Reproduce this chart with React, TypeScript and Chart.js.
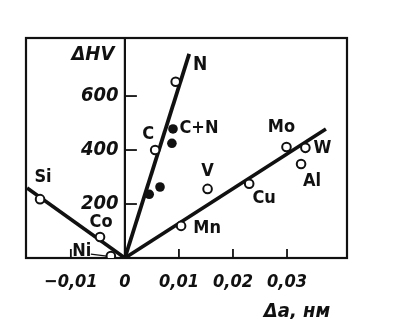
import React, { useEffect, useRef } from 'react';
import { Chart, registerables } from 'chart.js';

Chart.register(...registerables);

// ---- data ----
const openLabels = ['Si', 'Co', 'Ni', 'N', 'C', 'Mn', 'V', 'Cu', 'Mo', 'W', 'Al'];
const openX = [-0.0157, -0.0046, -0.0026, 0.0094, 0.0056, 0.0104, 0.0153, 0.0230, 0.0299, 0.0334, 0.0326];
const openY = [218, 78, 7, 653, 400, 119, 256, 275, 411, 408, 348];

const filledLabel = 'C+N';
const filledX = [0.0045, 0.0065, 0.0087, 0.0089];
const filledY = [236, 263, 425, 478];

const siLineX = [-0.0181, 0];
const siLineY = [259, 0];
const nLineX = [0, 0.0119];
const nLineY = [0, 756];
const subLineX = [0, 0.0372];
const subLineY = [0, 478];

const xTicks = [-0.01, 0, 0.01, 0.02, 0.03];
const yTicks = [200, 400, 600];

const xMin = -0.0183;
const xMax = 0.0411;
const yMin = 0;
const yMax = 815;

const yTitle = 'ΔHV';
const xTitle = 'Δa, нм';

// ---- label placement (pixel offsets relative to marks) ----
const labelOffsets: Record<string, [number, number]> = {
  Si: [3, -22],
  Co: [1, -15],
  Ni: [-29, -5],
  C: [-7, -16],
  Mn: [26, 2],
  V: [0, -18],
  Cu: [15, 15],
  Mo: [-5, -20],
  W: [17, 0],
  Al: [11, 17],
};

const INK = '#111';
const FONT_FAMILY = '"DejaVu Sans Condensed", "Liberation Sans Narrow", "DejaVu Sans", sans-serif';

const pts = (xs: number[], ys: number[]) => xs.map((x, i) => ({ x, y: ys[i] }));

const fmtX = (v: number) => {
  if (Math.abs(v) < 1e-9) return '0';
  const s = Math.abs(v).toFixed(2).replace('.', ',');
  return v < 0 ? '−' + s : s;
};

const overlay = {
  id: 'overlay',
  beforeDatasetsDraw(chart: any) {
    const { ctx, chartArea: a, scales } = chart;
    const xs = scales.x;
    const ys = scales.y;
    ctx.save();
    ctx.strokeStyle = INK;
    ctx.lineWidth = 2.2;
    ctx.strokeRect(a.left, a.top, a.right - a.left, a.bottom - a.top);
    const x0 = xs.getPixelForValue(0);
    ctx.beginPath();
    ctx.moveTo(x0, a.top);
    ctx.lineTo(x0, a.bottom);
    ctx.stroke();
    // inward tick marks
    ctx.lineWidth = 1.8;
    xTicks.forEach((v) => {
      if (v === 0) return;
      const px = xs.getPixelForValue(v);
      ctx.beginPath();
      ctx.moveTo(px, a.bottom);
      ctx.lineTo(px, a.bottom - 9);
      ctx.stroke();
    });
    yTicks.forEach((v) => {
      const py = ys.getPixelForValue(v);
      ctx.beginPath();
      ctx.moveTo(x0, py);
      ctx.lineTo(x0 + 12, py);
      ctx.stroke();
    });
    ctx.restore();
  },
  afterDraw(chart: any) {
    const { ctx, chartArea: a, scales } = chart;
    const xs = scales.x;
    const ys = scales.y;
    ctx.save();
    ctx.fillStyle = INK;
    ctx.strokeStyle = INK;
    ctx.textAlign = 'center';
    ctx.textBaseline = 'middle';
    ctx.font = `bold 18px ${FONT_FAMILY}`;
    openLabels.forEach((name, i) => {
      const off = labelOffsets[name];
      if (!off) return;
      const px = xs.getPixelForValue(openX[i]);
      const py = ys.getPixelForValue(openY[i]);
      ctx.fillText(name, px + off[0], py + off[1]);
      if (name === 'Ni') {
        ctx.lineWidth = 1.2;
        ctx.beginPath();
        ctx.moveTo(px - 20, py - 2);
        ctx.lineTo(px - 4, py);
        ctx.stroke();
      }
    });
    // C+N label beside the top filled point
    const top = filledY.indexOf(Math.max(...filledY));
    ctx.fillText(filledLabel, xs.getPixelForValue(filledX[top]) + 26, ys.getPixelForValue(filledY[top]) - 1);
    // N label at end of N line
    ctx.font = `bold 19px ${FONT_FAMILY}`;
    ctx.fillText('N', xs.getPixelForValue(nLineX[1]) + 11, ys.getPixelForValue(nLineY[1]) + 11);
    // axis titles
    ctx.font = `italic bold 20px ${FONT_FAMILY}`;
    ctx.fillText(yTitle, xs.getPixelForValue(0) - 32, a.top + 17);
    ctx.fillText(xTitle, a.right - 50, a.bottom + 54);
    ctx.restore();
  },
};

export default function App() {
  const ref = useRef<HTMLCanvasElement | null>(null);
  useEffect(() => {
    if (!ref.current) return;
    const chart = new Chart(ref.current, {
      type: 'scatter',
      data: {
        datasets: [
          {
            label: 'open',
            data: pts(openX, openY),
            pointRadius: 4.3,
            pointBorderWidth: 2,
            pointBackgroundColor: '#fff',
            pointBorderColor: INK,
            showLine: false,
            order: 0,
          },
          {
            label: filledLabel,
            data: pts(filledX, filledY),
            pointRadius: 4.8,
            pointBorderWidth: 0,
            pointBackgroundColor: INK,
            pointBorderColor: INK,
            showLine: false,
            order: 0,
          },
          {
            label: 'Si line',
            data: pts(siLineX, siLineY),
            showLine: true,
            borderColor: INK,
            borderWidth: 3.6,
            pointRadius: 0,
            order: 1,
          },
          {
            label: 'N line',
            data: pts(nLineX, nLineY),
            showLine: true,
            borderColor: INK,
            borderWidth: 3.8,
            pointRadius: 0,
            order: 1,
          },
          {
            label: 'subst line',
            data: pts(subLineX, subLineY),
            showLine: true,
            borderColor: INK,
            borderWidth: 3.6,
            pointRadius: 0,
            order: 1,
          },
        ],
      },
      options: {
        animation: false,
        responsive: false,
        layout: { padding: { left: 26, right: 67, top: 38, bottom: 0 } },
        plugins: { legend: { display: false }, tooltip: { enabled: false }, title: { display: false } },
        scales: {
          x: {
            type: 'linear',
            position: 'bottom',
            min: xMin,
            max: xMax,
            afterBuildTicks: (s: any) => {
              s.ticks = xTicks.map((v) => ({ value: v }));
            },
            afterFit: (s: any) => {
              s.height = 61;
            },
            grid: { display: false, drawTicks: false },
            border: { display: false },
            ticks: {
              color: INK,
              padding: 14,
              maxRotation: 0,
              autoSkip: false,
              font: { family: FONT_FAMILY, size: 18, style: 'italic', weight: 'bold' },
              callback: (v: any) => fmtX(Number(v)),
            },
          },
          y: {
            type: 'linear',
            position: { x: 0 } as any,
            min: yMin,
            max: yMax,
            afterBuildTicks: (s: any) => {
              s.ticks = yTicks.map((v) => ({ value: v }));
            },
            grid: { display: false, drawTicks: false },
            border: { display: false },
            ticks: {
              color: INK,
              autoSkip: false,
              font: { family: FONT_FAMILY, size: 20, style: 'italic', weight: 'bold' },
              // trailing space keeps the right-aligned label clear of the axis line
              callback: (v: any) => String(v) + ' ',
            },
          },
        },
      },
      plugins: [overlay],
    });
    return () => chart.destroy();
  }, []);
  return (
    <div style={{ position: 'fixed', left: 0, top: 0, width: 414, height: 319, background: '#fff' }}>
      <canvas ref={ref} width={414} height={319} />
    </div>
  );
}
